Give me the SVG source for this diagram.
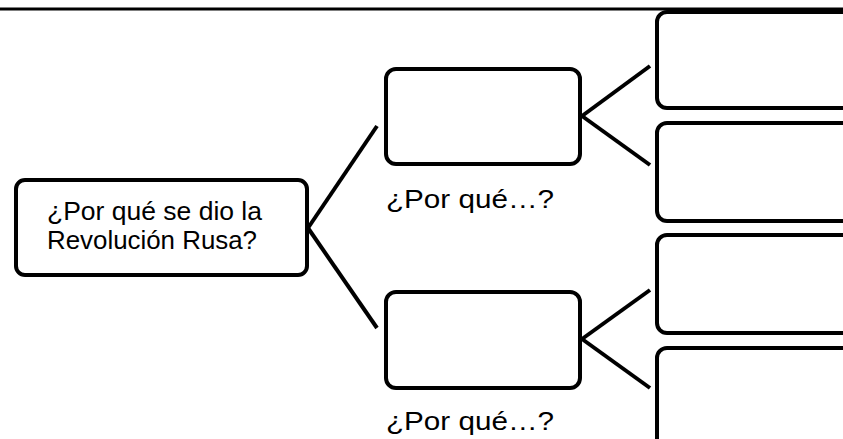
<svg xmlns="http://www.w3.org/2000/svg" width="843" height="439" viewBox="0 0 843 439">
<style>
.box{fill:#fff;stroke:#000;stroke-width:4}
.con{stroke:#000;stroke-width:4;stroke-linecap:butt;fill:none}
.t{font-family:"Liberation Sans",Arial,sans-serif;font-size:25px;fill:#000}
</style>
<rect width="843" height="439" fill="#fff"/>
<line x1="0" y1="9" x2="843" y2="9" stroke="#000" stroke-width="3"/>
<g id="connectors">
<line class="con" x1="308" y1="228" x2="377" y2="126"/>
<line class="con" x1="308" y1="228" x2="377" y2="328"/>
<line class="con" x1="582" y1="116" x2="650" y2="66"/>
<line class="con" x1="582" y1="116" x2="650" y2="165"/>
<line class="con" x1="582" y1="339" x2="650" y2="290"/>
<line class="con" x1="582" y1="339" x2="650" y2="388"/>
</g>
<g id="main">
<rect class="box" x="16" y="180" width="291" height="95" rx="9"/>
<text class="t" x="47" y="220" textLength="215" lengthAdjust="spacingAndGlyphs">¿Por qué se dio la</text>
<text class="t" x="47" y="249" textLength="210" lengthAdjust="spacingAndGlyphs">Revolución Rusa?</text>
</g>
<g id="mid1">
<rect class="box" x="386" y="69" width="194" height="95" rx="10"/>
<text class="t" x="386" y="208" textLength="168" lengthAdjust="spacingAndGlyphs">¿Por qué…?</text>
</g>
<g id="mid2">
<rect class="box" x="386" y="292" width="194" height="96" rx="10"/>
<text class="t" x="386" y="430" textLength="168" lengthAdjust="spacingAndGlyphs">¿Por qué…?</text>
</g>
<g id="r1"><rect class="box" x="657" y="12" width="200" height="96" rx="10"/></g>
<g id="r2"><rect class="box" x="657" y="123" width="200" height="98" rx="10"/></g>
<g id="r3"><rect class="box" x="657" y="235" width="200" height="98" rx="10"/></g>
<g id="r4"><rect class="box" x="657" y="348" width="200" height="110" rx="10"/></g>
</svg>
